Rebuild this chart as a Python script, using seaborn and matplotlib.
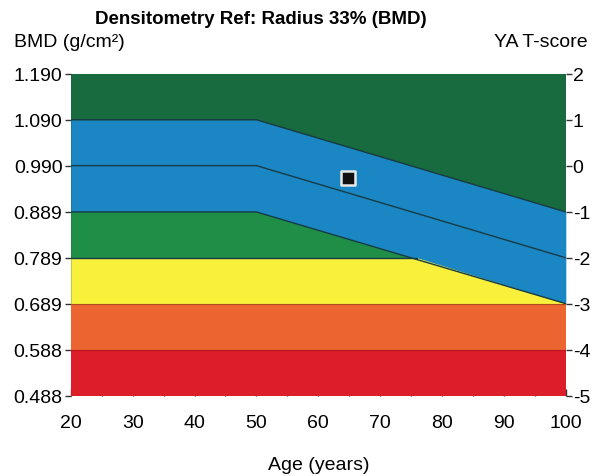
import numpy as np
import matplotlib
matplotlib.use("Agg")
import matplotlib.pyplot as plt
import seaborn as sns

# reference curves (age in years, BMD in g/cm2)
ages = [20, 50, 100]
upper_bmd = [1.090, 1.090, 0.889]
mean_bmd = [0.990, 0.990, 0.789]
lower_bmd = [0.889, 0.889, 0.689]
yellow_ages = [20, 76, 100]
yellow_top = [0.789, 0.789, 0.689]

bmd_ticks = [0.488, 0.588, 0.689, 0.789, 0.889, 0.990, 1.090, 1.190]
tscore_ticks = [-5, -4, -3, -2, -1, 0, 1, 2]
age_ticks = [20, 30, 40, 50, 60, 70, 80, 90, 100]

patient_age = [64.8]
patient_bmd = [0.962]

sns.set_theme(style="white")
plt.rcParams["font.family"] = ["Liberation Sans", "DejaVu Sans"]
plt.rcParams["text.color"] = "black"
plt.rcParams["xtick.color"] = "black"
plt.rcParams["ytick.color"] = "black"
plt.rcParams["axes.labelcolor"] = "black"

fig = plt.figure(figsize=(6, 4.77), dpi=100)
ax = fig.add_axes([0.118, 0.168, 0.825, 0.675])

ax.set_facecolor("#176b3e")
ax.fill_between(ages, lower_bmd, upper_bmd, color="#1a86c4", lw=0)
ax.fill_between(ages, 0.689, lower_bmd, color="#1f8f47", lw=0)
ax.fill_between(yellow_ages, 0.689, yellow_top, color="#f9f03b", lw=0)
ax.fill_between([20, 100], 0.588, 0.689, color="#ec6430", lw=0)
ax.fill_between([20, 100], 0.488, 0.588, color="#dc1d2a", lw=0)

line_color = "#173c45"
for vals in (upper_bmd, mean_bmd, lower_bmd):
    sns.lineplot(x=ages, y=vals, ax=ax, color=line_color, lw=1.0)
sns.lineplot(x=yellow_ages[:2], y=yellow_top[:2], ax=ax, color=line_color, lw=1.0)
sns.lineplot(x=[20, 100], y=[0.689, 0.689], ax=ax, color="#b04a20", lw=0.8)
sns.lineplot(x=[20, 100], y=[0.588, 0.588], ax=ax, color="#b81822", lw=0.8)

sns.scatterplot(x=patient_age, y=patient_bmd, ax=ax, marker="s", s=110,
                color="#111111", edgecolor="#e8e8e8", linewidth=1.8, zorder=5)

ax.set_xlim(20, 100)
ax.set_ylim(0.488, 1.190)
ax.set_xticks(age_ticks)
ax.set_xticks(np.arange(25, 100, 10), minor=True)
ax.set_yticks(bmd_ticks)
ax.set_yticklabels([f"{v:.3f}" for v in bmd_ticks])
ax.tick_params(axis="x", which="both", direction="in", length=5, width=1,
               color="#333333", labelsize=14, pad=13, bottom=True)
ax.tick_params(axis="y", direction="out", length=4, width=1, color="#333333",
               labelsize=14, left=True, pad=2)
for s in ax.spines.values():
    s.set_visible(False)
ax.set_xlabel("Age (years)", fontsize=14, labelpad=18)
ax.set_ylabel("")

ax2 = ax.twinx()
ax2.set_ylim(-5, 2)
ax2.set_yticks(tscore_ticks)
ax2.set_yticklabels([str(t) for t in tscore_ticks])
ax2.tick_params(axis="y", direction="out", length=4, width=1, color="#333333",
                labelsize=14, right=True, pad=1)
for s in ax2.spines.values():
    s.set_visible(False)
ax2.grid(False)

fig.text(0.435, 0.960, "Densitometry Ref: Radius 33% (BMD)", ha="center",
         va="center", fontsize=13.5, fontweight="bold")
fig.text(0.023, 0.910, "BMD (g/cm²)", ha="left", va="center", fontsize=14)
fig.text(0.98, 0.910, "YA T-score", ha="right", va="center", fontsize=14)

fig.savefig("out.png", dpi=100)
